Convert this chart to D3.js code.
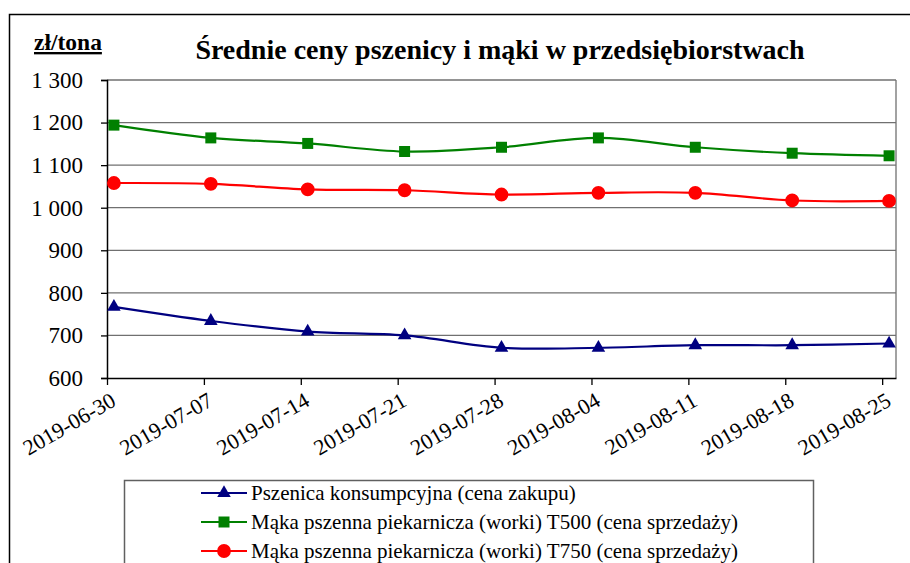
<!DOCTYPE html>
<html>
<head>
<meta charset="utf-8">
<script src="https://cdn.jsdelivr.net/npm/d3@7"></script>
<style>
  body { margin: 0; background: #fff; }
</style>
</head>
<body>
<svg id="chart" width="910" height="563"></svg>
<script>
// weekly dates (categories)
const dates = ["2019-06-30", "2019-07-07", "2019-07-14", "2019-07-21", "2019-07-28",
               "2019-08-04", "2019-08-11", "2019-08-18", "2019-08-25"];

// series values, zł/tona
const pszenica = [767, 734, 709, 700, 671, 671, 677, 677, 681];
const makaT500 = [1194, 1164, 1151, 1132, 1142, 1164, 1142, 1128, 1122];
const makaT750 = [1058, 1056, 1043, 1041, 1031, 1035, 1035, 1017, 1016];

const seriesNames = [
    "Pszenica konsumpcyjna (cena zakupu)",
    "Mąka pszenna piekarnicza (worki) T500 (cena sprzedaży)",
    "Mąka pszenna piekarnicza (worki) T750 (cena sprzedaży)"
];

const yTicks = [600, 700, 800, 900, 1000, 1100, 1200, 1300];

const serif = "'Liberation Serif'";

const series = [
    { name: seriesNames[0], values: pszenica, color: "#000080", symbol: d3.symbolTriangle, size: 80 },
    { name: seriesNames[1], values: makaT500, color: "#008000", symbol: d3.symbolSquare, size: 121 },
    { name: seriesNames[2], values: makaT750, color: "#ff0000", symbol: d3.symbolCircle, size: 150 }
];

const svg = d3.select("#chart");

const margin = { top: 80, right: 14, bottom: 185, left: 107 };
const W = 910, H = 563;

const parse = d3.utcParse("%Y-%m-%d");
const dayMs = 24 * 3600 * 1000;

// date axis: each date takes a one-day slot, points sit in the middle of the slot
const x = d3.scaleUtc()
    .domain([parse(dates[0]), new Date(+parse(dates[dates.length - 1]) + dayMs)])
    .range([margin.left, W - margin.right]);

const y = d3.scaleLinear()
    .domain([600, 1300])
    .range([H - margin.bottom, margin.top]);

const xPos = d => x(new Date(+parse(d) + dayMs / 2));

// outer frame (top and left edges visible)
svg.append("path")
    .attr("d", `M9.5,${H} V14.5 H${W}`)
    .attr("fill", "none")
    .attr("stroke", "#000")
    .attr("stroke-width", 1.5);

// gridlines
svg.append("g")
    .selectAll("line")
    .data(yTicks.slice(1))
    .join("line")
    .attr("x1", margin.left)
    .attr("x2", W - margin.right)
    .attr("y1", d => y(d))
    .attr("y2", d => y(d))
    .attr("stroke", "#707070")
    .attr("stroke-width", 1.3);

// right plot border
svg.append("line")
    .attr("x1", W - margin.right).attr("x2", W - margin.right)
    .attr("y1", y(1300)).attr("y2", y(600))
    .attr("stroke", "#707070")
    .attr("stroke-width", 1.3);

// y axis
const yAxis = svg.append("g")
    .attr("transform", `translate(${margin.left},0)`)
    .call(d3.axisLeft(y).tickValues(yTicks).tickSize(6).tickPadding(18)
        .tickFormat(d => d3.format(",")(d).replace(",", " ")));
yAxis.select(".domain").attr("stroke", "#000").attr("stroke-width", 1.5);
yAxis.selectAll(".tick line").attr("stroke", "#000").attr("stroke-width", 1.3);
yAxis.selectAll(".tick text")
    .style("font-family", serif)
    .style("font-size", "23px")
    .attr("fill", "#000");

// x axis
const xAxis = svg.append("g")
    .attr("transform", `translate(0,${y(600)})`)
    .call(d3.axisBottom(x).tickValues(dates.map(parse)).tickSize(7).tickSizeOuter(0)
        .tickFormat(d3.utcFormat("%Y-%m-%d")));
xAxis.select(".domain").attr("stroke", "#000").attr("stroke-width", 1.5);
xAxis.selectAll(".tick line").attr("stroke", "#000").attr("stroke-width", 1.3);
xAxis.selectAll(".tick text")
    .style("font-family", serif)
    .style("font-size", "22px")
    .attr("fill", "#000")
    .attr("text-anchor", "end")
    .attr("transform", "translate(6,20) rotate(-30)")
    .attr("dy", "0.35em")
    .attr("y", 0);

// lines and markers
const line = d3.line()
    .x((d, i) => xPos(dates[i]))
    .y(d => y(d))
    .curve(d3.curveCatmullRom);

series.forEach(s => {
    svg.append("path")
        .datum(s.values)
        .attr("d", line)
        .attr("fill", "none")
        .attr("stroke", s.color)
        .attr("stroke-width", 2.2);

    svg.append("g")
        .selectAll("path")
        .data(s.values)
        .join("path")
        .attr("transform", (d, i) => `translate(${xPos(dates[i])},${y(d)})`)
        .attr("d", d3.symbol(s.symbol, s.size))
        .attr("fill", s.color);
});

// title
svg.append("text")
    .attr("x", 500)
    .attr("y", 59)
    .attr("text-anchor", "middle")
    .style("font-family", serif)
    .style("font-size", "28px")
    .style("font-weight", "bold")
    .text("Średnie ceny pszenicy i mąki w przedsiębiorstwach");

// unit label
svg.append("text")
    .attr("x", 34)
    .attr("y", 50)
    .style("font-family", serif)
    .style("font-size", "23.5px")
    .style("font-weight", "bold")
    .style("text-decoration", "underline")
    .text("zł/tona");

// legend
const legend = svg.append("g");
legend.append("rect")
    .attr("x", 124.5)
    .attr("y", 480.5)
    .attr("width", 689)
    .attr("height", 120)
    .attr("fill", "#fff")
    .attr("stroke", "#606060")
    .attr("stroke-width", 1.5);

const rowY = d3.scalePoint().domain(seriesNames).range([493, 551]);

const item = legend.selectAll("g.item")
    .data(series)
    .join("g")
    .attr("class", "item")
    .attr("transform", d => `translate(0,${rowY(d.name)})`);

item.append("line")
    .attr("x1", 201).attr("x2", 247)
    .attr("stroke", d => d.color)
    .attr("stroke-width", 2.2);

item.append("path")
    .attr("transform", "translate(224,0)")
    .attr("d", d => d3.symbol(d.symbol, d.size)())
    .attr("fill", d => d.color);

item.append("text")
    .attr("x", 251)
    .attr("y", 7)
    .style("font-family", serif)
    .style("font-size", "21px")
    .text(d => d.name);
</script>
</body>
</html>
